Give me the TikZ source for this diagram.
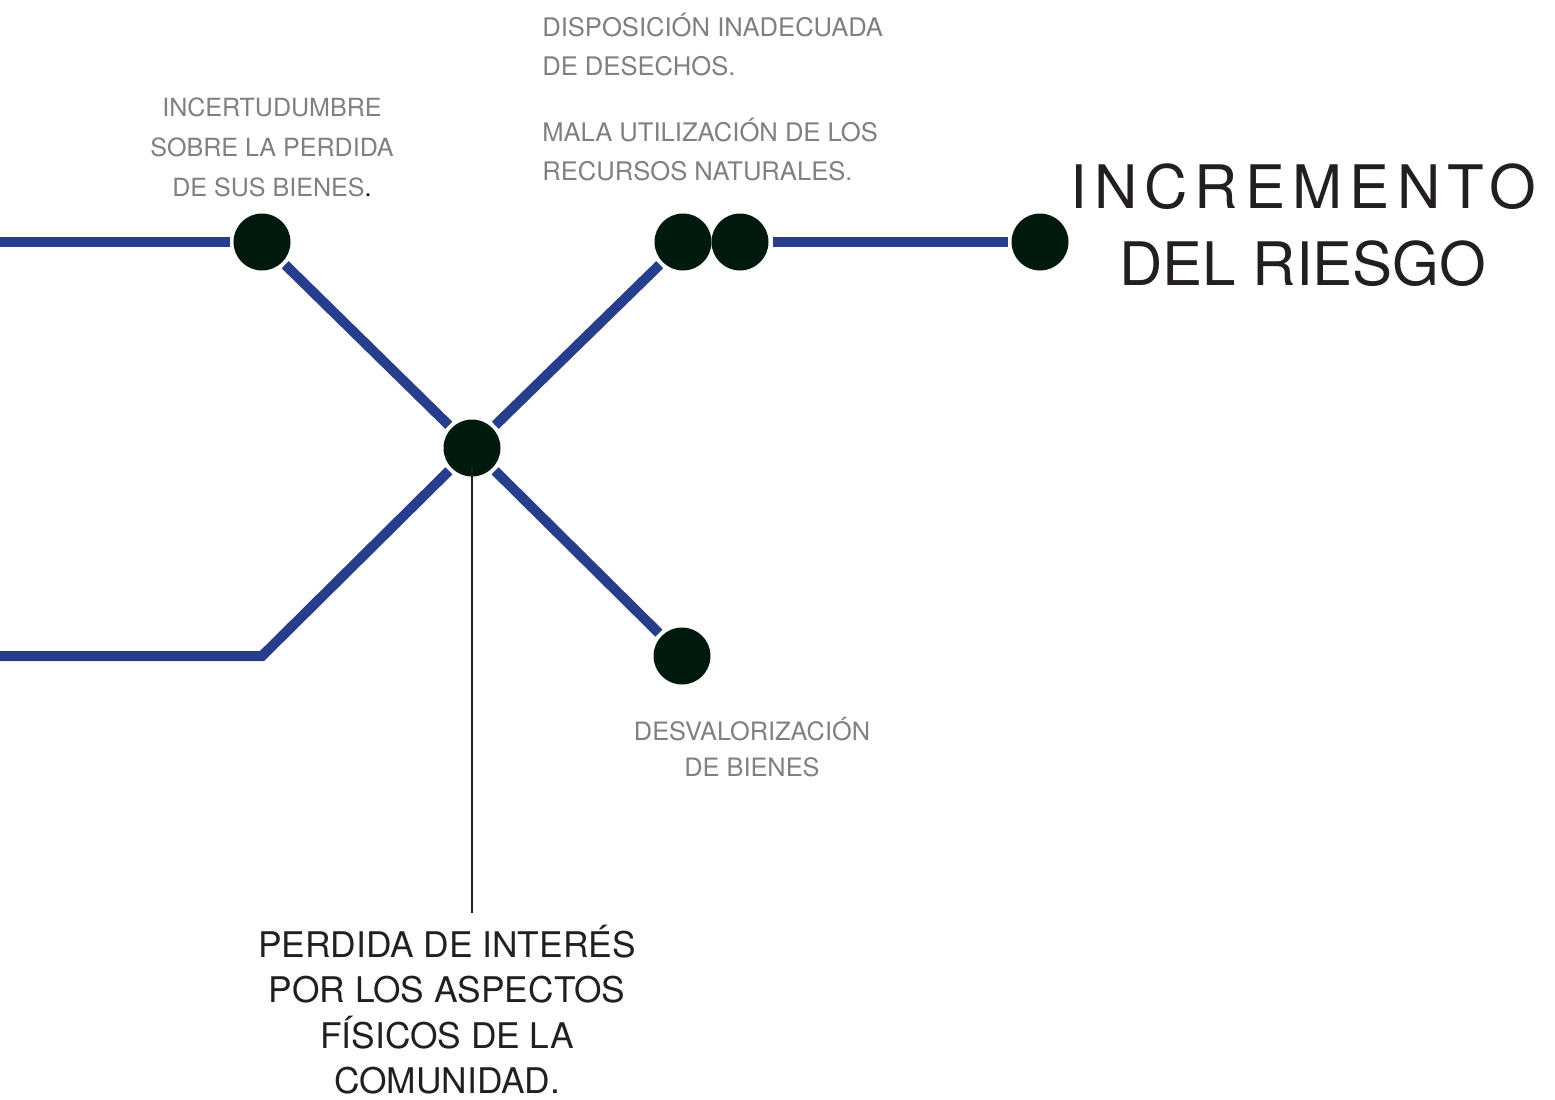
\documentclass[tikz,border=0pt]{standalone}
\usepackage{fontspec}
\setmainfont{TeX Gyre Heros}
\usetikzlibrary{calc}
\definecolor{riskblue}{RGB}{38,62,140}
\definecolor{dotgreen}{RGB}{2,26,14}
\definecolor{titledark}{RGB}{35,31,32}
\definecolor{labelgray}{RGB}{128,128,128}

\begin{document}
\begin{tikzpicture}[x=0.75pt,y=-0.75pt,
    dot/.style={circle,fill=dotgreen,inner sep=0pt,minimum size=42.75pt,outer sep=3pt},
    link/.style={riskblue,line width=7.5pt},
    stem/.style={titledark,line width=1.5pt},
    lbl/.style={text=labelgray,inner sep=0pt,align=center,font=\fontsize{18.8}{30}\selectfont}]
    \useasboundingbox (0,0) rectangle (1555,1099);
    % the stations
    \node[dot] (bienes) at (262,242) {};
    \node[dot] (ctr) at (472,448) {};
    \node[dot] (desechos) at (683,242) {};
    \node[dot] (recursos) at (740,242) {};
    \node[dot] (riesgo) at (1040,242) {};
    \node[dot] (desval) at (682,656) {};
    \coordinate (inA) at (0,242);
    \coordinate (inB) at (0,656);
    \coordinate (knee) at (262,656);
    % the lines
    \draw[link] (inA) -- (bienes);
    \draw[link] (bienes) -- (ctr);
    \draw[link] (inB) -- (knee) -- (ctr);
    \draw[link] (ctr) -- (desechos);
    \draw[link] (ctr) -- (desval);
    \draw[link] (recursos) -- (riesgo);
    % the labels
    \node[lbl,anchor=north] (tIncert) at (272,98) {INCERTUDUMBRE\\SOBRE LA PERDIDA\\DE SUS BIENES\textcolor{black}{.}};
    \node[lbl,anchor=north west,align=left,font=\fontsize{19.2}{29.3}\selectfont] (tDisp) at (542,13)
        {DISPOSICIÓN INADECUADA\\DE DESECHOS.\\[20pt]MALA UTILIZACIÓN DE LOS\\RECURSOS NATURALES.};
    \node[anchor=north,inner sep=0pt,align=center,text=titledark,font=\fontsize{45}{58}\selectfont] (tRiesgo) at (1303,163)
        {{\addfontfeature{LetterSpace=12}INCREMENTO}\\DEL RIESGO};
    \node[lbl,anchor=north,font=\fontsize{19}{27}\selectfont] (tDesval) at (752,717) {DESVALORIZACIÓN\\DE BIENES};
    \node[anchor=north,inner sep=0pt,align=center,text=titledark,font=\fontsize{26.5}{34}\selectfont] (tPerd) at (447,925)
        {PERDIDA DE INTERÉS\\POR LOS ASPECTOS\\FÍSICOS DE LA\\COMUNIDAD.};
    \draw[stem] ([yshift=-15pt]ctr.center) -- (ctr.center |- tPerd.north) [shorten >=9pt];
\end{tikzpicture}
\end{document}
